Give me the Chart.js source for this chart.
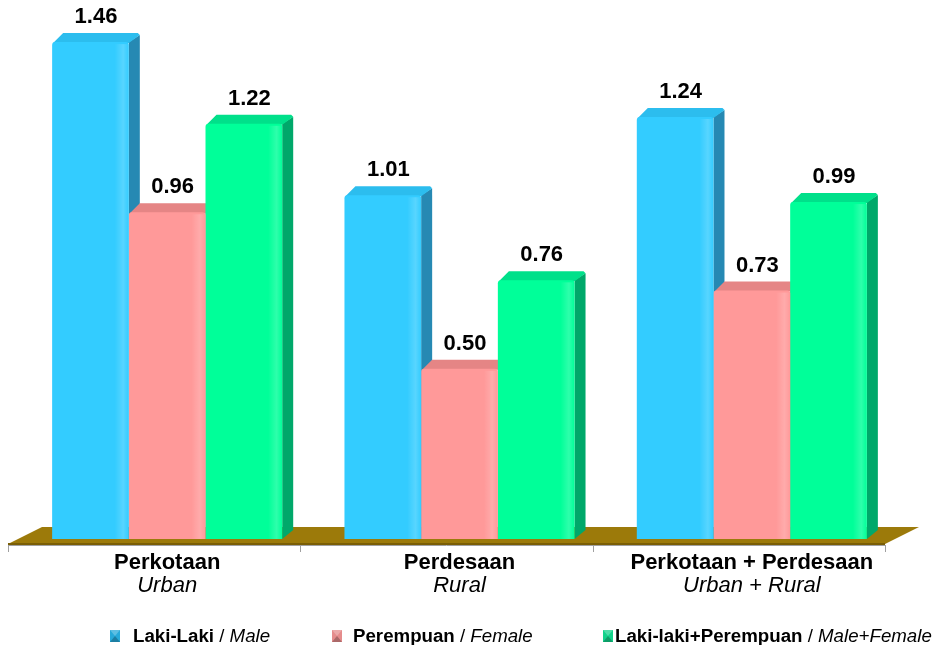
<!DOCTYPE html>
<html><head><meta charset="utf-8">
<script src="https://cdn.jsdelivr.net/npm/chart.js@4/dist/chart.umd.min.js"></script>
<style>html,body{margin:0;padding:0;background:#fff;}#wrap{width:936px;height:645px;position:relative;}</style>
</head><body><div id="wrap"><canvas id="c" width="936" height="645"></canvas></div>
<script>
// ---- data ----
const categories = ['Perkotaan', 'Perdesaan', 'Perkotaan + Perdesaan'];
const categoriesEn = ['Urban', 'Rural', 'Urban + Rural'];
const seriesNames = ['Laki-Laki', 'Perempuan', 'Laki-laki+Perempuan'];
const seriesNamesEn = ['Male', 'Female', 'Male+Female'];
const male = [1.46, 1.01, 1.24];
const female = [0.96, 0.50, 0.73];
const total = [1.22, 0.76, 0.99];

// ---- styles ----
const FONT = "'Liberation Sans', Arial, Helvetica, sans-serif";
const frontColors = ['#33CCFF', '#FF9999', '#00FF99'];
const sideColors = ['#2689B3', '#C87272', '#00A86A'];
const topColors = ['#2CBDEE', '#E58585', '#00E08A'];
const markerColors = ['#27A9D9', '#E58C8C', '#12D28A'];
const DEPTH = { dx: 11, dy: -9 };
const FLOOR = { frontShift: -13, backDx: 34, backDy: -17, frontY: 5 };
const X_PAD = 13;

const threeD = {
  id: 'threeD',
  beforeDatasetsDraw(chart) {
    const ctx = chart.ctx;
    const area = chart.chartArea;
    const y0 = chart.scales.y.getPixelForValue(0);
    const fy = y0 + FLOOR.frontY;
    const fl = area.left + FLOOR.frontShift, fr = area.right + FLOOR.frontShift;
    ctx.save();
    ctx.fillStyle = '#9C7A0A';
    ctx.beginPath();
    ctx.moveTo(fl, fy);
    ctx.lineTo(fr, fy);
    ctx.lineTo(fr + FLOOR.backDx, fy + FLOOR.backDy);
    ctx.lineTo(fl + FLOOR.backDx, fy + FLOOR.backDy);
    ctx.closePath();
    ctx.fill();
    ctx.fillStyle = '#7A5E05';
    ctx.fillRect(fl, fy - 1, fr - fl, 2);
    ctx.strokeStyle = '#A0A0A0';
    ctx.lineWidth = 1;
    ctx.beginPath();
    ctx.moveTo(fl, fy + 1.5);
    ctx.lineTo(fr, fy + 1.5);
    const n = categories.length;
    const catW = (area.right - area.left) / n;
    for (let k = 0; k <= n; k++) {
      const tx = Math.round(fl + k * catW) + 0.5;
      ctx.moveTo(tx, fy + 1);
      ctx.lineTo(tx, fy + 8);
    }
    ctx.stroke();
    chart.data.datasets.forEach((ds, i) => {
      const meta = chart.getDatasetMeta(i);
      meta.data.forEach(bar => {
        const l = bar.x - bar.width / 2, r = bar.x + bar.width / 2, t = bar.y, b = bar.base;
        ctx.fillStyle = sideColors[i];
        ctx.beginPath();
        ctx.moveTo(r, t);
        ctx.lineTo(r + DEPTH.dx, t + DEPTH.dy + 2);
        ctx.lineTo(r + DEPTH.dx, b + DEPTH.dy);
        ctx.lineTo(r, b);
        ctx.closePath();
        ctx.fill();
        ctx.fillStyle = topColors[i];
        ctx.beginPath();
        ctx.moveTo(l + 1, t + 1);
        ctx.lineTo(l + DEPTH.dx, t + DEPTH.dy);
        ctx.lineTo(r + DEPTH.dx - 2, t + DEPTH.dy);
        ctx.lineTo(r + DEPTH.dx, t + DEPTH.dy + 2);
        ctx.lineTo(r, t + 1);
        ctx.closePath();
        ctx.fill();
      });
    });
    ctx.restore();
  },
  afterDatasetsDraw(chart) {
    const ctx = chart.ctx;
    ctx.save();
    chart.data.datasets.forEach((ds, i) => {
      chart.getDatasetMeta(i).data.forEach(bar => {
        const r = bar.x + bar.width / 2;
        const g = ctx.createLinearGradient(r - 14, 0, r, 0);
        g.addColorStop(0, 'rgba(255,255,255,0)');
        g.addColorStop(0.6, 'rgba(255,255,255,0.18)');
        g.addColorStop(1, 'rgba(255,255,255,0)');
        ctx.fillStyle = g;
        ctx.fillRect(r - 14, bar.y + 2, 14, bar.base - bar.y - 2);
      });
    });
    ctx.font = 'bold 22px ' + FONT;
    ctx.fillStyle = '#000';
    ctx.textAlign = 'center';
    ctx.textBaseline = 'alphabetic';
    chart.data.datasets.forEach((ds, i) => {
      const meta = chart.getDatasetMeta(i);
      meta.data.forEach((bar, j) => {
        ctx.fillText(ds.data[j].toFixed(2), bar.x + DEPTH.dx / 2, bar.y + DEPTH.dy - 10);
      });
    });
    ctx.restore();
  },
  afterDraw(chart) {
    const ctx = chart.ctx;
    ctx.save();
    // second (English, italic) line of the category labels
    const xs = chart.scales.x;
    ctx.font = 'italic 22px ' + FONT;
    ctx.fillStyle = '#000';
    ctx.textAlign = 'center';
    ctx.textBaseline = 'middle';
    categoriesEn.forEach((lab, i) => {
      ctx.fillText(lab, xs.getPixelForTick(i), xs.top + X_PAD + 11 + 23);
    });
    // legend
    const starts = [110, 332, 603];
    const gaps = [13, 11, 2];
    const cy = 636;
    ctx.textBaseline = 'alphabetic';
    ctx.textAlign = 'left';
    seriesNames.forEach((name, i) => {
      const mx = starts[i];
      const mw = 10, mh = 12, my = cy - 6;
      ctx.fillStyle = markerColors[i];
      ctx.fillRect(mx, my, mw, mh);
      ctx.fillStyle = 'rgba(0,0,0,0.25)';
      ctx.beginPath();
      ctx.moveTo(mx, my + mh); ctx.lineTo(mx + mw / 2, my + mh / 2); ctx.lineTo(mx + mw, my + mh); ctx.closePath(); ctx.fill();
      ctx.fillStyle = 'rgba(255,255,255,0.25)';
      ctx.beginPath();
      ctx.moveTo(mx, my); ctx.lineTo(mx + mw / 2, my + mh / 2); ctx.lineTo(mx + mw, my); ctx.closePath(); ctx.fill();
      let tx = mx + mw + gaps[i];
      const base = cy + 6;
      ctx.fillStyle = '#000';
      ctx.font = 'bold 18.7px ' + FONT;
      ctx.fillText(name, tx, base);
      tx += ctx.measureText(name).width;
      ctx.font = '18.7px ' + FONT;
      ctx.fillText(' / ', tx, base);
      tx += ctx.measureText(' / ').width;
      ctx.font = 'italic 18.7px ' + FONT;
      ctx.fillText(seriesNamesEn[i], tx, base);
    });
    ctx.restore();
  }
};

const seriesValues = [male, female, total];
new Chart(document.getElementById('c'), {
  type: 'bar',
  data: {
    labels: categories,
    datasets: seriesValues.map((vals, i) => ({
      label: seriesNames[i] + ' / ' + seriesNamesEn[i],
      data: vals,
      backgroundColor: frontColors[i],
      borderWidth: 0,
      borderRadius: { topLeft: 3, topRight: 3, bottomLeft: 0, bottomRight: 0 },
      borderSkipped: false,
      categoryPercentage: 0.787,
      barPercentage: 1.0
    }))
  },
  options: {
    responsive: false,
    animation: false,
    layout: { padding: { top: 20, left: 21, right: 38, bottom: 58 } },
    plugins: { legend: { display: false }, tooltip: { enabled: false } },
    scales: {
      y: { display: false, min: 0, max: 1.525 },
      x: {
        position: 'bottom',
        grid: { display: false, drawTicks: false },
        border: { display: false },
        ticks: { color: '#000', padding: X_PAD, autoSkip: false, maxRotation: 0,
                 font: { family: FONT, size: 22, weight: 'bold', lineHeight: 1 } }
      }
    }
  },
  plugins: [threeD]
});
</script></body></html>
